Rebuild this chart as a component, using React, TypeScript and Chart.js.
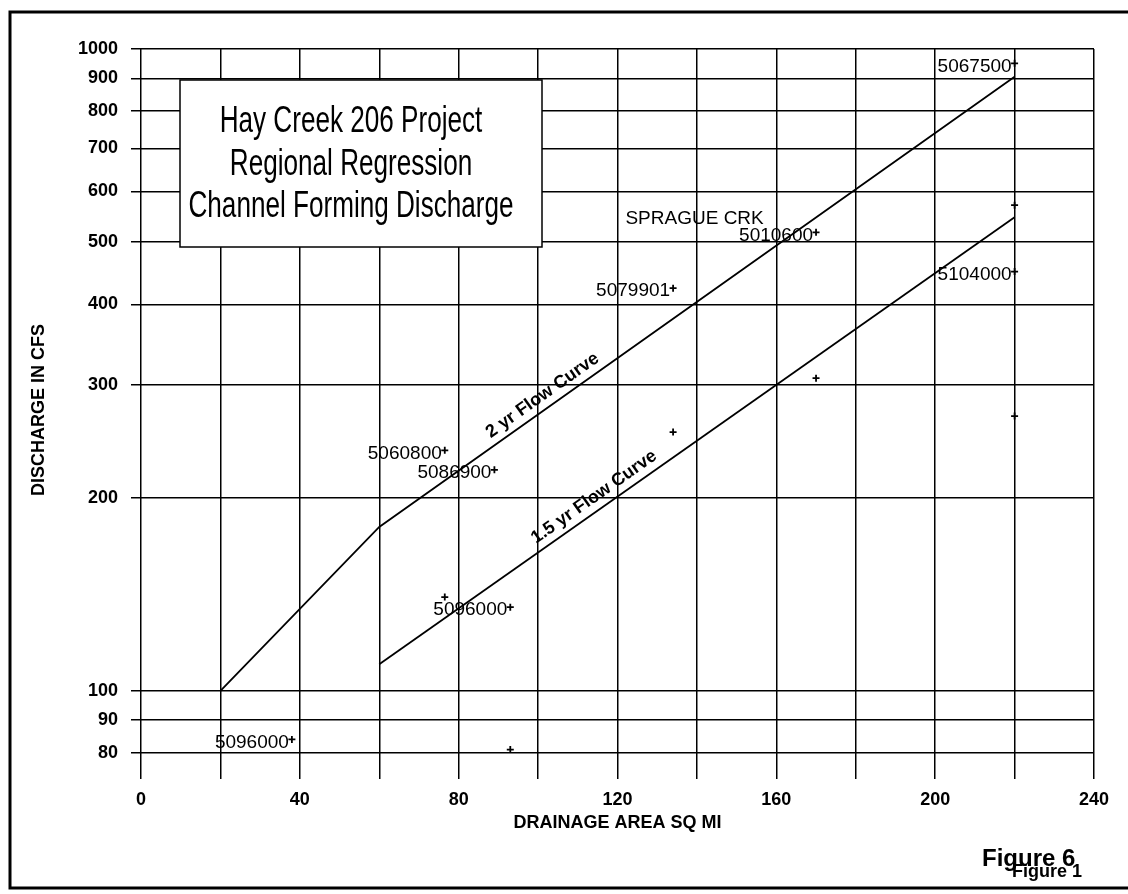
import React, { useEffect, useRef } from "react";
import { Chart, registerables } from "chart.js";

Chart.register(...registerables);

// ---- axis ticks ----
const xTickLabels = [0, 40, 80, 120, 160, 200, 240];
const yTickValues = [80, 90, 100, 200, 300, 400, 500, 600, 700, 800, 900, 1000];

// ---- regression curves ----
const curve2yrX = [20, 60, 220];
const curve2yrY = [100, 180, 905];
const curve15yrX = [60, 220];
const curve15yrY = [110, 547];

const curveLabels = ["2 yr Flow Curve", "1.5 yr Flow Curve"];
const curveLabelAnchorX = [103, 116];

// ---- gauged stations (labelled) ----
const stationNames = ["5067500", "5104000", "5010600", "5079901", "5060800", "5086900", "5096000", "5096000"];
const stationX = [220, 220, 170, 134, 76.5, 89, 93, 38];
const stationY = [950, 450, 518, 424, 237, 221, 135, 84];

// ---- other observed points (unlabelled) ----
const otherX = [220, 220, 170, 134, 76.5, 93];
const otherY = [571, 268, 307, 253, 140, 81];

// ---- free text ----
const creekName = "SPRAGUE CRK";
const creekX = 122;
const creekY = 543;

const titleLines = ["Hay Creek 206 Project", "Regional Regression", "Channel Forming Discharge"];
const figureLabels = ["Figure 6", "Figure 1"];

const FONT = '"Liberation Sans", Arial, Helvetica, sans-serif';

const annotationPlugin = {
  id: "annotations",
  afterDatasetsDraw(chart: any) {
    const { ctx, scales } = chart;
    const xs = scales.x;
    const ys = scales.y;
    ctx.save();
    ctx.fillStyle = "#000";
    // station labels
    ctx.font = `19px ${FONT}`;
    ctx.textAlign = "right";
    ctx.textBaseline = "middle";
    stationNames.forEach((n, i) => {
      ctx.fillText(n, xs.getPixelForValue(stationX[i]) - 3, ys.getPixelForValue(stationY[i]) + 3);
    });
    // creek name
    ctx.textAlign = "left";
    ctx.fillText(creekName, xs.getPixelForValue(creekX), ys.getPixelForValue(creekY));

    // curve labels along the lines
    const curves = [
      [curve2yrX, curve2yrY],
      [curve15yrX, curve15yrY],
    ];
    ctx.font = `bold 18px ${FONT}`;
    ctx.textAlign = "center";
    ctx.textBaseline = "alphabetic";
    curves.forEach(([cx, cy], k) => {
      const ax = curveLabelAnchorX[k];
      let s = 0;
      for (let i = 0; i < cx.length - 1; i++) {
        if (ax >= cx[i] && ax <= cx[i + 1]) s = i;
      }
      const p0x = xs.getPixelForValue(cx[s]);
      const p0y = ys.getPixelForValue(cy[s]);
      const p1x = xs.getPixelForValue(cx[s + 1]);
      const p1y = ys.getPixelForValue(cy[s + 1]);
      const a = Math.atan2(p1y - p0y, p1x - p0x);
      const px = xs.getPixelForValue(ax);
      const t = (px - p0x) / (p1x - p0x);
      const py = p0y + t * (p1y - p0y);
      const off = 8;
      ctx.save();
      ctx.translate(px + Math.sin(a) * off, py - Math.cos(a) * off);
      ctx.rotate(a);
      ctx.fillText(curveLabels[k], 0, 0);
      ctx.restore();
    });
    ctx.restore();
  },
  afterDraw(chart: any) {
    const { ctx } = chart;
    ctx.save();
    // outer frame
    ctx.strokeStyle = "#000";
    ctx.lineWidth = 3;
    ctx.strokeRect(10, 12, 1200, 876);

    // title box
    ctx.fillStyle = "#fff";
    ctx.fillRect(180, 80, 362, 167);
    ctx.lineWidth = 1.5;
    ctx.strokeRect(180, 80, 362, 167);
    ctx.fillStyle = "#000";
    ctx.font = `36px ${FONT}`;
    ctx.textAlign = "center";
    ctx.textBaseline = "alphabetic";
    const sx = 325 / ctx.measureText(titleLines[2]).width;
    const baselines = [132, 175, 217];
    titleLines.forEach((line, i) => {
      ctx.save();
      ctx.translate(351, baselines[i]);
      ctx.scale(sx, 1);
      ctx.fillText(line, 0, 0);
      ctx.restore();
    });

    // figure labels
    ctx.textAlign = "left";
    ctx.font = `bold 24px ${FONT}`;
    ctx.fillText(figureLabels[0], 982, 866);
    ctx.font = `bold 18px ${FONT}`;
    ctx.fillText(figureLabels[1], 1012, 877);
    ctx.restore();
  },
};

export default function App() {
  const ref = useRef<HTMLCanvasElement | null>(null);

  useEffect(() => {
    if (!ref.current) return;
    const chart = new Chart(ref.current, {
      type: "scatter",
      data: {
        datasets: [
          {
            label: "2 yr Flow Curve",
            data: curve2yrX.map((x, i) => ({ x, y: curve2yrY[i] })),
            showLine: true,
            borderColor: "#000",
            borderWidth: 1.8,
            pointRadius: 0,
          },
          {
            label: "1.5 yr Flow Curve",
            data: curve15yrX.map((x, i) => ({ x, y: curve15yrY[i] })),
            showLine: true,
            borderColor: "#000",
            borderWidth: 1.8,
            pointRadius: 0,
          },
          {
            label: "Stations",
            data: stationX.map((x, i) => ({ x, y: stationY[i] })),
            pointStyle: "cross",
            pointRadius: 3.5,
            borderColor: "#000",
            borderWidth: 1.8,
          },
          {
            label: "Other",
            data: otherX.map((x, i) => ({ x, y: otherY[i] })),
            pointStyle: "cross",
            pointRadius: 3.5,
            borderColor: "#000",
            borderWidth: 1.8,
          },
        ],
      },
      options: {
        responsive: false,
        animation: false,
        devicePixelRatio: 1,
        layout: { padding: { left: 28, top: 49, right: 34, bottom: 60 } },
        plugins: {
          legend: { display: false },
          tooltip: { enabled: false },
        },
        scales: {
          x: {
            type: "linear",
            min: 0,
            max: 240,
            afterFit: (s: any) => {
              s.height = 63;
            },
            border: { display: false },
            grid: { color: "#000", lineWidth: 1.5, tickColor: "#000", tickLength: 8 },
            ticks: {
              stepSize: 20,
              autoSkip: false,
              maxRotation: 0,
              padding: 10,
              color: "#000",
              font: { family: FONT, size: 18, weight: "bold" },
              callback: (v: any) => (xTickLabels.includes(Number(v)) ? String(v) : ""),
            },
            title: {
              display: true,
              text: "DRAINAGE AREA SQ MI",
              color: "#000",
              padding: 0,
              font: { family: FONT, size: 18, weight: "bold" },
            },
          },
          y: {
            type: "logarithmic",
            min: 75,
            max: 1000,
            afterFit: (s: any) => {
              s.width = 113;
            },
            afterBuildTicks: (s: any) => {
              s.ticks = yTickValues.map((v) => ({ value: v }));
            },
            border: { display: false },
            grid: { color: "#000", lineWidth: 1.5, tickColor: "#000", tickLength: 10 },
            ticks: {
              autoSkip: false,
              padding: 13,
              color: "#000",
              font: { family: FONT, size: 18, weight: "bold" },
              callback: (v: any) => String(v),
            },
            title: {
              display: true,
              text: "DISCHARGE IN CFS",
              color: "#000",
              padding: 0,
              font: { family: FONT, size: 18, weight: "bold" },
            },
          },
        },
      } as any,
      plugins: [annotationPlugin],
    });
    return () => chart.destroy();
  }, []);

  return (
    <div style={{ position: "fixed", left: 0, top: 0, width: 1128, height: 894, background: "#fff" }}>
      <canvas ref={ref} width={1128} height={894} style={{ display: "block" }} />
    </div>
  );
}
